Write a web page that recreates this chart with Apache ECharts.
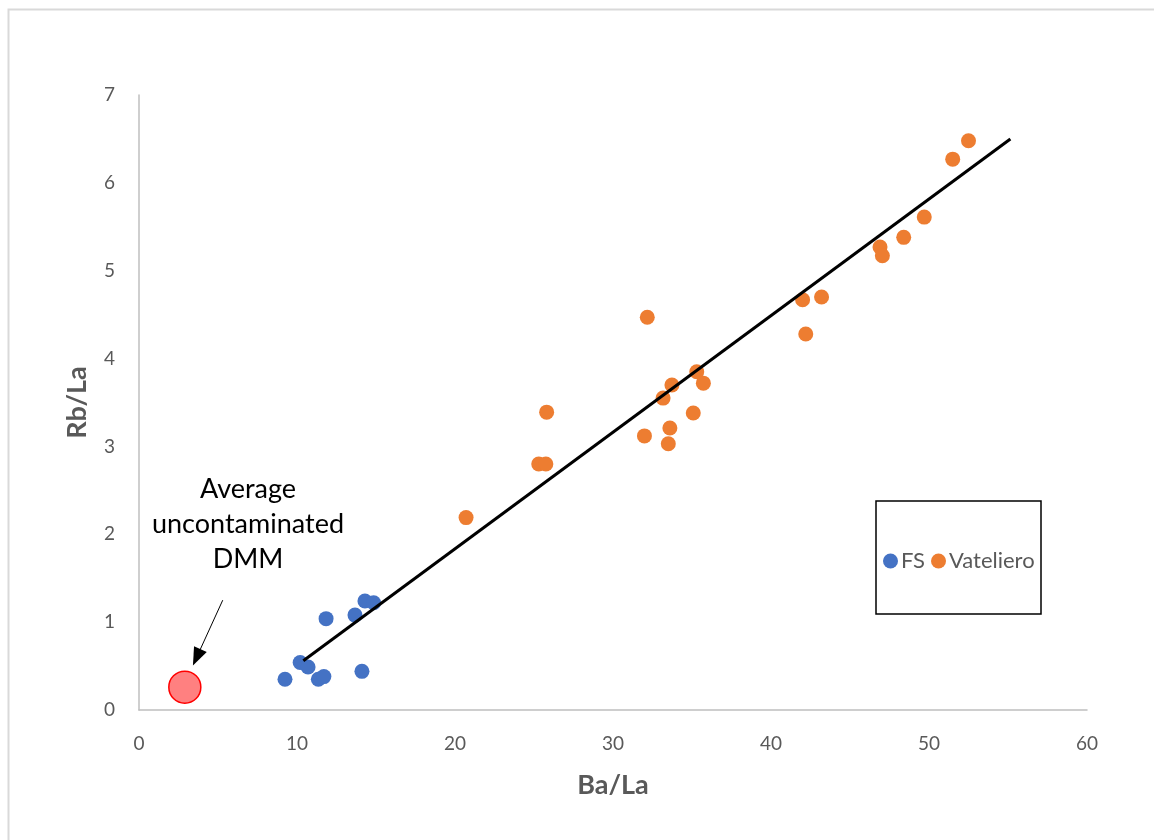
<!DOCTYPE html>
<html>
<head>
<meta charset="utf-8">
<script src="https://cdn.jsdelivr.net/npm/echarts@6/dist/echarts.min.js"></script>
<style>
html,body{margin:0;padding:0;background:#fff;}
#chart{width:1154px;height:840px;}
</style>
</head>
<body>
<div id="chart"></div>
<script>
var xTicks = [0, 10, 20, 30, 40, 50, 60];
var yTicks = [0, 1, 2, 3, 4, 5, 6, 7];

var fsData = [
  [9.24, 0.35], [10.2, 0.54], [10.7, 0.49], [11.35, 0.35], [11.7, 0.38],
  [11.84, 1.04], [13.67, 1.08], [14.11, 0.44], [14.3, 1.24], [14.85, 1.22]
];
var vatelieroData = [
  [20.7, 2.19], [25.3, 2.80], [25.75, 2.80], [25.8, 3.39], [31.99, 3.12],
  [32.17, 4.47], [33.17, 3.55], [33.5, 3.03], [33.6, 3.21], [33.73, 3.70],
  [35.08, 3.38], [35.3, 3.85], [35.72, 3.72], [42.0, 4.67], [42.2, 4.28],
  [43.2, 4.70], [46.9, 5.27], [47.05, 5.17], [48.4, 5.38], [49.7, 5.61],
  [51.5, 6.27], [52.5, 6.48]
];
var dmmData = [[2.9, 0.26]];
var trendData = [[10.4, 0.56], [55.15, 6.5]];
var arrowFrom = [5.3, 1.25];
var arrowTo = [3.65, 0.6];

var FONT = 'Lato';
var chart = echarts.init(document.getElementById('chart'), null, {renderer: 'canvas'});
chart.setOption({
  animation: false,
  backgroundColor: '#ffffff',
  textStyle: {fontFamily: FONT},
  grid: {left: 139, right: 67, top: 95, bottom: 130},
  xAxis: {
    type: 'value', min: 0, max: 60, interval: 10,
    name: 'Ba/La', nameLocation: 'middle', nameGap: 62,
    nameTextStyle: {fontFamily: FONT, fontSize: 27, fontWeight: 'bold', color: '#595959'},
    axisLine: {lineStyle: {color: '#bfbfbf', width: 1.5}},
    axisTick: {show: false},
    splitLine: {show: false},
    axisLabel: {fontFamily: FONT, fontSize: 19, color: '#595959', margin: 24,
      formatter: function (v) { return xTicks.indexOf(v) >= 0 ? String(v) : ''; }}
  },
  yAxis: {
    type: 'value', min: 0, max: 7, interval: 1,
    name: 'Rb/La', nameLocation: 'middle', nameGap: 48, nameRotate: 90,
    nameTextStyle: {fontFamily: FONT, fontSize: 27, fontWeight: 'bold', color: '#595959'},
    axisLine: {show: true, lineStyle: {color: '#bfbfbf', width: 1.5}},
    axisTick: {show: false},
    splitLine: {show: false},
    axisLabel: {fontFamily: FONT, fontSize: 19, color: '#595959', margin: 24,
      formatter: function (v) { return yTicks.indexOf(v) >= 0 ? String(v) : ''; }}
  },
  legend: {
    data: ['FS', 'Vateliero'],
    left: 878, top: 545,
    itemWidth: 15, itemHeight: 15, itemGap: 6,
    textStyle: {fontFamily: FONT, fontSize: 22, color: '#595959', padding: [0, 0, 0, -2]}
  },
  graphic: [
    {type: 'rect', left: 6, top: 7, shape: {width: 1170, height: 860},
     style: {fill: 'none', stroke: '#d9d9d9', lineWidth: 2}, silent: true, z: -10},
    {type: 'rect', x: 876, y: 501, shape: {x: 0, y: 0, width: 165, height: 113},
     style: {fill: 'none', stroke: '#000000', lineWidth: 1.5}, silent: true},
    {type: 'text', x: 248, y: 472,
     style: {text: 'Average\nuncontaminated\nDMM', fill: '#000000', font: '27px Lato',
       textAlign: 'center', lineHeight: 35}}
  ],
  series: [
    {
      name: 'FS', type: 'scatter', data: fsData, symbolSize: 15,
      itemStyle: {color: '#4472C4', opacity: 1}
    },
    {
      name: 'Vateliero', type: 'scatter', data: vatelieroData, symbolSize: 15,
      itemStyle: {color: '#ED7D31', opacity: 1}
    },
    {
      name: 'DMM', type: 'scatter', data: dmmData, symbolSize: 32,
      itemStyle: {color: '#FF8080', borderColor: '#FF0000', borderWidth: 1.5, opacity: 1}
    },
    {
      name: 'Trend', type: 'line', data: trendData, showSymbol: false, symbol: 'none',
      lineStyle: {color: '#000000', width: 3}, z: 5,
      markLine: {
        silent: true, symbol: ['none', 'triangle'], symbolSize: [14, 18],
        label: {show: false},
        lineStyle: {color: '#000000', width: 1, type: 'solid'},
        data: [[{coord: arrowFrom}, {coord: arrowTo}]]
      }
    }
  ]
});
</script>
</body>
</html>
